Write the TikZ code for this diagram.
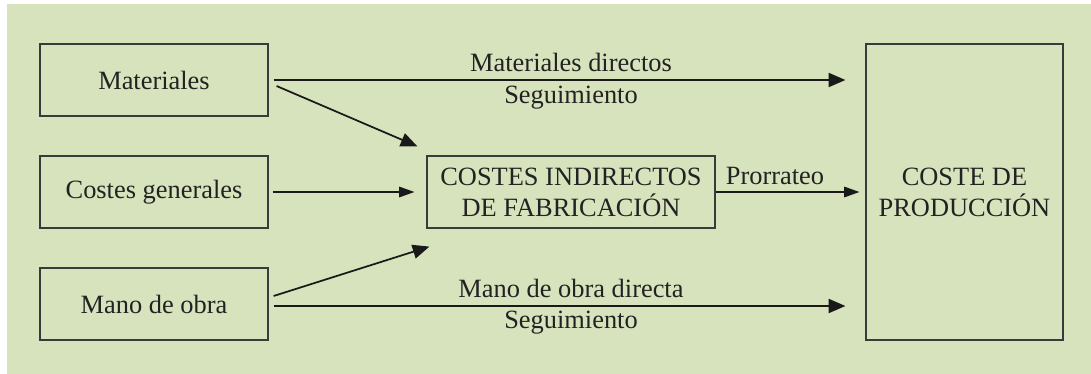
\documentclass[tikz,border=0pt]{standalone}
\usepackage{fontspec}
\setmainfont{Liberation Serif}
\usetikzlibrary{arrows.meta,calc}
\definecolor{bggreen}{HTML}{D7E3BD}
\definecolor{boxline}{HTML}{3A3A3A}
\definecolor{txt}{HTML}{222222}
\begin{document}
\begin{tikzpicture}[x=0.75pt,y=-0.75pt,
  every node/.style={font=\rmfamily\fontsize{19.8}{23.3}\selectfont,text=txt},
  box/.style={draw=boxline,line width=0.9pt,align=center,inner sep=0pt},
  bigarrow/.style={draw=black!90,line width=1.3pt,-{Triangle[length=12.5pt,width=10.5pt]}},
  smallarrow/.style={draw=black!90,line width=0.8pt,-{Triangle[length=11.5pt,width=8pt]}},
  lbl/.style={anchor=base,inner sep=0pt}]
\useasboundingbox (0,0) rectangle (1091,374);
\fill[bggreen] (7,4) rectangle (1091,374);
% boxes
\node[box,minimum width=171pt,minimum height=54pt] (mat) at (154,80) {Materiales};
\node[box,minimum width=171pt,minimum height=54pt] (cg) at (154,192) {Costes generales};
\node[box,minimum width=171pt,minimum height=54pt] (mo) at (154,304) {Mano de obra};
\node[box,minimum width=216pt,minimum height=54pt] (cif) at (571,192) {COSTES INDIRECTOS\\DE FABRICACIÓN};
\node[box,minimum width=147.75pt,minimum height=222pt] (cp) at (964.5,192) {COSTE DE\\PRODUCCIÓN};
% helper coordinates
\coordinate (matA) at ([shift={(5,0)}]mat.east);
\coordinate (matB) at ([shift={(-20,0)}]cp.west |- mat.east);
\coordinate (matD) at ([shift={(8,6)}]mat.east);
\coordinate (cifNW) at ([shift={(-9,-9)}]cif.north west);
\coordinate (moD) at ([shift={(5,-8)}]mo.east);
\coordinate (cifSW) at ([shift={(3,18)}]cif.south west);
\coordinate (moA) at ([shift={(5,2)}]mo.east);
\coordinate (moB) at ([shift={(-20,2)}]cp.west |- mo.east);
% connectors
\draw[bigarrow] (matA) -- (matB);
\draw[bigarrow] (matD) -- (cifNW);
\draw[smallarrow,shorten <=3pt,shorten >=9pt] (cg.east) -- (cif.west);
\draw[bigarrow] (moD) -- (cifSW);
\draw[bigarrow] (moA) -- (moB);
\draw[smallarrow,shorten >=4.5pt] (cif.east) -- (cp.west);
% labels
\node[lbl] (l1) at ([yshift=6pt]cif.center |- matA) {Materiales directos};
\node[lbl] (l2) at ([yshift=-17.5pt]cif.center |- matA) {Seguimiento};
\node[lbl] (l3) at ([yshift=6.5pt]cif.center |- moA) {Mano de obra directa};
\node[lbl] (l4) at ([yshift=-17pt]cif.center |- moA) {Seguimiento};
\node[lbl] (l5) at ([yshift=6pt]775,192) {Prorrateo};
\end{tikzpicture}
\end{document}
